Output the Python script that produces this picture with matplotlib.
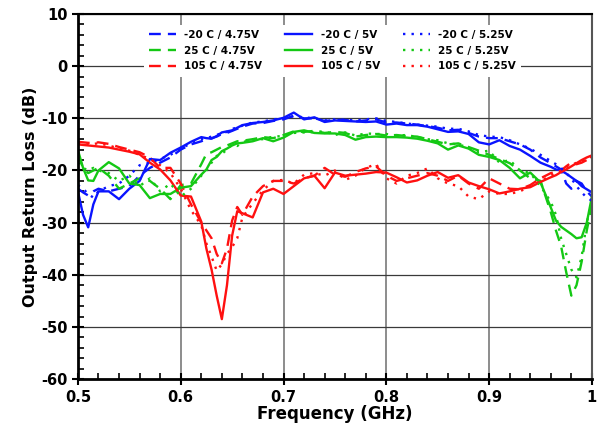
import numpy as np
import matplotlib
matplotlib.use('Agg')
import matplotlib.pyplot as plt
from matplotlib.ticker import MultipleLocator

plt.rcParams['axes.unicode_minus'] = False

# ─── Data ─────────────────────────────────────────────────────────────────────
freq = [0.50, 0.505, 0.51, 0.515, 0.52, 0.53, 0.54, 0.55, 0.56, 0.57, 0.58, 0.59,
        0.60, 0.61, 0.62, 0.625, 0.63, 0.635, 0.64, 0.645, 0.65, 0.655, 0.66,
        0.67, 0.68, 0.69, 0.70, 0.71, 0.72, 0.73, 0.74, 0.75, 0.76, 0.77, 0.78,
        0.79, 0.80, 0.81, 0.82, 0.83, 0.84, 0.85, 0.86, 0.87, 0.88, 0.89, 0.90,
        0.91, 0.92, 0.93, 0.94, 0.95, 0.96, 0.965, 0.97, 0.975, 0.98, 0.985,
        0.99, 0.995, 1.00]

m20_475 = [-23.5, -24.2, -24.8, -24.0, -23.5, -24.0, -23.5, -23.0, -21.0, -19.5, -18.5, -17.5,
           -16.0, -15.0, -14.4, -14.0, -13.8, -13.5, -13.0, -12.8, -12.4, -12.0, -11.6,
           -11.0, -10.9, -10.5, -10.2, -9.5, -10.0, -10.0, -10.5, -10.3, -10.3, -10.6, -10.4,
           -10.2, -10.8, -10.8, -11.0, -11.2, -11.5, -11.8, -12.3, -12.2, -12.8, -13.5, -13.8,
           -13.8, -14.4, -15.0, -16.0, -17.5, -18.6, -19.2, -19.8, -22.5, -23.5, -22.0,
           -22.5, -24.0, -25.0]
m20_500 = [-24.0, -28.5, -30.9, -26.5, -24.0, -24.0, -25.5, -23.5, -22.0, -17.8, -18.0, -16.6,
           -15.6, -14.5, -13.6, -13.8, -13.9, -13.4, -12.7, -12.5, -12.3, -11.8, -11.3,
           -10.9, -10.7, -10.4, -9.9, -8.9, -10.2, -9.8, -10.7, -10.4, -10.5, -10.6, -10.7,
           -10.6, -11.2, -11.0, -11.3, -11.3, -11.6, -12.1, -12.6, -12.5, -13.0, -14.6, -15.0,
           -14.2, -15.3, -16.0, -17.2, -18.5, -19.3, -19.8, -20.0, -20.6, -21.3, -22.0,
           -23.0, -23.6, -24.2]
m20_525 = [-22.8, -23.5, -24.5, -25.2, -24.0, -23.0, -22.5, -21.0, -19.0, -18.5, -17.8, -17.0,
           -15.8, -14.8, -14.0, -13.8, -13.5, -13.2, -12.8, -12.6, -12.0, -11.8, -11.4,
           -10.8, -10.6, -10.2, -10.0, -9.6, -9.8, -10.0, -10.4, -10.2, -10.3, -10.4, -10.2,
           -10.0, -10.5, -10.7, -11.0, -11.2, -11.4, -11.6, -12.0, -12.0, -12.5, -13.2, -13.5,
           -13.6, -14.2, -15.0, -15.8, -17.0, -18.2, -18.8, -19.5, -20.5, -21.5, -23.0,
           -24.2, -25.2, -25.8]

p25_475 = [-17.0, -19.5, -20.5, -20.0, -19.5, -21.0, -23.5, -22.5, -21.5, -22.0, -23.5, -25.5,
           -22.8, -22.5, -18.8, -16.8, -16.5, -16.0, -15.5, -15.2, -14.8, -14.4, -14.3,
           -14.0, -13.6, -13.8, -13.2, -12.5, -12.6, -12.4, -12.8, -12.6, -12.8, -13.5, -13.2,
           -13.0, -13.3, -13.2, -13.4, -13.5, -14.0, -14.5, -15.0, -14.8, -15.5, -16.2, -17.0,
           -17.8, -18.6, -20.0, -21.5, -22.0, -28.0, -31.5, -34.5, -39.5, -44.0, -42.0,
           -37.5, -31.5, -26.5]
p25_500 = [-16.1, -19.5, -21.9, -22.0, -20.0, -18.4, -19.6, -22.5, -22.8, -25.3, -24.5, -24.5,
           -23.3, -23.0, -20.8, -19.8, -18.0, -17.4, -16.3, -15.8, -15.2, -14.8, -14.7,
           -14.4, -13.8, -14.4, -13.7, -12.6, -12.3, -12.8, -12.9, -12.9, -13.2, -14.1, -13.6,
           -13.5, -13.6, -13.6, -13.7, -13.9, -14.3, -14.8, -16.0, -15.2, -15.8, -17.0, -17.4,
           -18.0, -19.5, -21.5, -20.4, -22.3, -27.1, -29.6, -30.8, -31.5, -32.2, -33.0,
           -32.8, -30.0, -25.0]
p25_525 = [-18.5, -19.5, -20.0, -19.5, -20.0, -20.5, -22.0, -21.0, -23.0, -21.5, -24.0, -22.5,
           -25.0, -23.5, -21.0, -20.0, -18.5, -17.2, -16.8, -16.0, -15.0, -15.3, -14.6,
           -14.0, -14.0, -13.5, -13.4, -12.8, -12.7, -12.6, -12.5, -13.2, -12.7, -13.3, -12.9,
           -13.0, -13.0, -13.3, -13.2, -13.6, -14.0, -14.2, -14.8, -15.0, -15.6, -16.5, -16.2,
           -18.5, -18.0, -20.0, -20.5, -23.0, -26.0, -28.5, -33.0, -36.0, -39.0, -40.5,
           -36.5, -30.0, -26.0]

p105_475 = [-14.5, -14.6, -14.7, -14.7, -14.6, -14.9, -15.5, -16.0, -16.5, -17.5, -19.5, -19.5,
            -22.5, -26.5, -30.0, -31.5, -33.0, -36.0, -37.8, -35.0, -29.6, -27.0, -28.5,
            -25.0, -23.0, -22.0, -22.0, -22.5, -21.5, -21.0, -19.5, -20.8, -21.2, -20.3, -19.6,
            -19.2, -21.0, -22.0, -21.5, -21.0, -20.5, -21.0, -22.0, -21.0, -22.5, -23.5, -21.5,
            -22.5, -23.5, -23.6, -22.8, -21.5, -20.5, -20.3, -20.0, -19.2, -18.5, -18.8,
            -18.5, -18.0, -17.5]
p105_500 = [-15.0, -15.1, -15.2, -15.3, -15.4, -15.6, -16.0, -16.4, -16.9, -18.5, -19.8, -21.9,
            -24.8, -25.0, -29.8, -35.0, -39.0, -44.0, -48.5, -42.0, -32.5, -27.8, -28.2,
            -29.0, -24.2, -23.5, -24.5, -23.0, -21.5, -21.0, -23.4, -20.4, -21.0, -20.8, -20.6,
            -20.3, -20.4, -21.3, -22.3, -21.9, -21.0, -20.3, -21.4, -20.9, -22.3, -23.0, -23.6,
            -24.4, -24.0, -23.5, -23.2, -22.2, -21.3, -20.9, -20.3, -19.8, -19.2, -18.6,
            -18.0, -17.5, -17.1]
p105_525 = [-14.8, -14.9, -15.0, -14.9, -14.8, -15.2, -15.8, -16.2, -17.0, -17.8, -19.0, -20.5,
            -23.5, -27.6, -30.5, -34.0, -36.5, -39.2, -38.0, -36.0, -34.7, -33.0, -29.0,
            -26.3, -23.8, -22.0, -21.8, -22.5, -20.8, -20.5, -21.0, -20.0, -21.8, -21.0, -19.5,
            -18.8, -21.5, -22.5, -21.0, -20.5, -19.6, -21.5, -22.5, -23.0, -25.0, -25.5, -24.0,
            -24.5, -24.5, -24.0, -23.0, -22.0, -21.0, -20.5, -20.0, -19.5, -19.0, -18.5,
            -18.2, -17.8, -17.3]

series = [
    ("-20 C / 4.75V", m20_475), ("25 C / 4.75V", p25_475), ("105 C / 4.75V", p105_475),
    ("-20 C / 5V", m20_500), ("25 C / 5V", p25_500), ("105 C / 5V", p105_500),
    ("-20 C / 5.25V", m20_525), ("25 C / 5.25V", p25_525), ("105 C / 5.25V", p105_525),
]
colors = ['#0a14ff', '#14c814', '#ff1010'] * 3
styles = [(0, (5, 3))] * 3 + ['-'] * 3 + [(0, (1, 2.6))] * 3

# ─── Figure ───────────────────────────────────────────────────────────────────
fig = plt.figure(figsize=(6.04, 4.25), dpi=100)
ax = fig.add_axes([0.129, 0.108, 0.851, 0.859])

for (label, vals), c, ls in zip(series, colors, styles):
    ax.plot(freq, vals, color=c, linestyle=ls, linewidth=1.7, label=label)

ax.set_xlim(0.5, 1.0)
ax.set_ylim(-60, 10)
ax.set_xticks([0.5, 0.6, 0.7, 0.8, 0.9, 1.0])
ax.set_xticklabels(['0.5', '0.6', '0.7', '0.8', '0.9', '1'])
ax.set_yticks(np.arange(-60, 11, 10))
ax.xaxis.set_minor_locator(MultipleLocator(0.02))
ax.yaxis.set_minor_locator(MultipleLocator(2))

ax.grid(axis='y', which='major', color='#3a3a3a', linewidth=0.9)
ax.grid(axis='x', which='major', color='#8c8c8c', linewidth=1.4)
ax.set_axisbelow(True)

ax.tick_params(which='major', direction='inout', length=8, width=1.5)
ax.tick_params(which='minor', direction='in', length=4, width=1.2)
for lbl in ax.get_xticklabels() + ax.get_yticklabels():
    lbl.set_fontweight('bold')
    lbl.set_fontsize(10.5)

for side in ['left', 'bottom']:
    ax.spines[side].set_linewidth(2.0)
for side in ['top', 'right']:
    ax.spines[side].set_linewidth(1.5)
ax.spines['right'].set_color('#555555')

ax.set_xlabel('Frequency (GHz)', fontsize=12, fontweight='bold', labelpad=0)
ax.set_ylabel('Output Return Loss (dB)', fontsize=11.5, fontweight='bold', labelpad=2)

leg = ax.legend(ncol=3, loc='upper center', bbox_to_anchor=(0.495, 0.985),
                prop={'weight': 'bold', 'size': 7.5}, frameon=True,
                facecolor='white', edgecolor='none', framealpha=1,
                handlelength=2.6, columnspacing=2.2, labelspacing=0.55,
                borderpad=0.5)

plt.savefig('out.png', dpi=100)
